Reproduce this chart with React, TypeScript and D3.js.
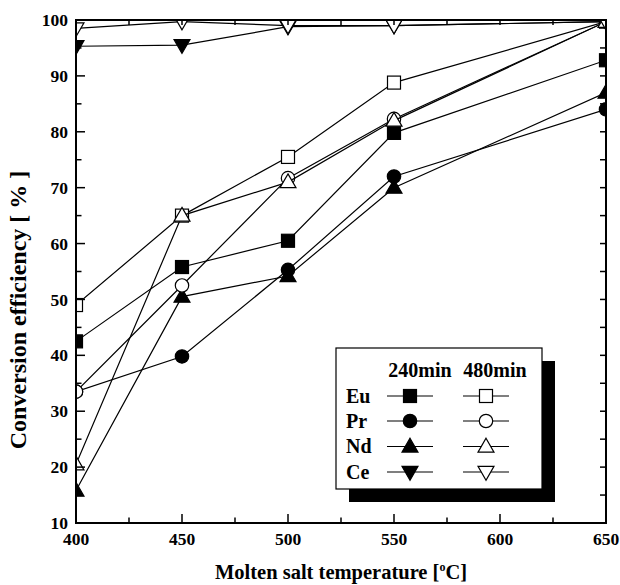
import { scaleLinear, line, range, symbol, symbolTriangle } from "d3";

const temps = [400, 450, 500, 550, 650];
const eu240 = [42.5, 55.8, 60.5, 79.8, 92.8];
const eu480 = [49, 65, 75.5, 88.8, 99.7];
const pr240 = [33.5, 39.8, 55.3, 72, 84];
const pr480 = [33.5, 52.5, 71.7, 82.3, 99.7];
const nd240 = [15.8, 50.5, 54.2, 70, 87];
const nd480 = [20.5, 65, 71, 82, 99.7];
const ce240 = [95.3, 95.5, 98.8, 99, 99.7];
const ce480 = [98.5, 99.7, 99, 99, 99.7];

const elements = ["Eu", "Pr", "Nd", "Ce"];
const shapes = ["square", "circle", "up", "down"];
const series240 = [eu240, pr240, nd240, ce240];
const series480 = [eu480, pr480, nd480, ce480];

const xTicks = [400, 450, 500, 550, 600, 650];
const yTicks = [10, 20, 30, 40, 50, 60, 70, 80, 90, 100];

const W = 620;
const H = 585;
const margin = { top: 20, right: 14, bottom: 62, left: 76 };
const font = "'Liberation Serif', 'Times New Roman', serif";

const Marker = ({ shape, x, y, filled }) => {
  const fill = filled ? "#000" : "#fff";
  if (shape === "square") {
    return <rect x={x - 6.5} y={y - 6.5} width={13} height={13} fill={fill} stroke="#000" strokeWidth={1.2} />;
  }
  if (shape === "circle") {
    return <circle cx={x} cy={y} r={6.7} fill={fill} stroke="#000" strokeWidth={1.2} />;
  }
  const d = symbol(symbolTriangle, 110)();
  const rot = shape === "down" ? 180 : 0;
  return (
    <path d={d} transform={`translate(${x},${y + (shape === "down" ? -1 : 1)}) rotate(${rot})`} fill={fill} stroke="#000" strokeWidth={1.2} />
  );
};

export default function App() {
  const innerW = W - margin.left - margin.right;
  const innerH = H - margin.top - margin.bottom;
  const x0 = margin.left;
  const x1 = margin.left + innerW;
  const y0 = margin.top;
  const y1 = margin.top + innerH;

  const xScale = scaleLinear().domain([400, 650]).range([x0, x1]);
  const yScale = scaleLinear().domain([10, 100]).range([y1, y0]);

  const lineGen = line()
    .x((d) => xScale(d[0]))
    .y((d) => yScale(d[1]));

  const minorX = range(400, 651, 25);
  const minorY = range(10, 101, 5);

  const drawSeries = (vals, shape, filled, key) => {
    const pts = temps.map((t, i) => [t, vals[i]]);
    return (
      <g key={key}>
        <path d={lineGen(pts)} fill="none" stroke="#000" strokeWidth={1.2} />
        {pts.map((p, i) => (
          <Marker key={i} shape={shape} x={xScale(p[0])} y={yScale(p[1])} filled={filled} />
        ))}
      </g>
    );
  };

  // legend layout
  const lg = { x: 336, y: 348, w: 206, h: 141, shadow: 13 };
  const rowY = [396, 421, 446.5, 472];

  return (
    <svg width={W} height={H} style={{ position: "absolute", left: 0, top: 0, background: "#fff" }} fontFamily={font}>
      <defs>
        <clipPath id="plotClip">
          <rect x={x0} y={y0} width={innerW} height={innerH} />
        </clipPath>
      </defs>

      <g clipPath="url(#plotClip)">
        {series240.map((s, i) => drawSeries(s, shapes[i], true, "a" + i))}
        {series480.map((s, i) => drawSeries(s, shapes[i], false, "b" + i))}
      </g>

      {/* frame */}
      <rect x={x0} y={y0} width={innerW} height={innerH} fill="none" stroke="#000" strokeWidth={2} />

      {/* ticks */}
      {minorY.map((v) => {
        const major = v % 10 === 0;
        return (
          <g key={"y" + v}>
            <line x1={x0} x2={x0 + (major ? 9 : 5.5)} y1={yScale(v)} y2={yScale(v)} stroke="#000" strokeWidth={1.5} />
            <line x1={x1} x2={x1 - 6} y1={yScale(v)} y2={yScale(v)} stroke="#000" strokeWidth={1.5} />
          </g>
        );
      })}
      {minorX.map((v) => {
        const major = v % 50 === 0;
        return (
          <g key={"x" + v}>
            <line x1={xScale(v)} x2={xScale(v)} y1={y1} y2={y1 - (major ? 9 : 5.5)} stroke="#000" strokeWidth={1.5} />
            <line x1={xScale(v)} x2={xScale(v)} y1={y0} y2={y0 + 5} stroke="#000" strokeWidth={1.5} />
          </g>
        );
      })}

      {/* tick labels */}
      {yTicks.map((v) => (
        <text key={"yl" + v} x={x0 - 8} y={yScale(v)} dy="0.35em" textAnchor="end" fontSize={17.5} fontWeight="bold">
          {v}
        </text>
      ))}
      {xTicks.map((v) => (
        <text key={"xl" + v} x={xScale(v)} y={y1 + 22} textAnchor="middle" fontSize={17.5} fontWeight="bold">
          {v}
        </text>
      ))}

      {/* axis titles */}
      <text x={(x0 + x1) / 2} y={579} textAnchor="middle" fontSize={20.5} fontWeight="bold">
        Molten salt temperature [<tspan dy={-8} fontSize={12}>o</tspan>
        <tspan dy={8}>C]</tspan>
      </text>
      <text transform={`translate(26,310) rotate(-90)`} textAnchor="middle" fontSize={24} fontWeight="bold">
        Conversion efficiency [ % ]
      </text>

      {/* legend */}
      <rect x={lg.x + lg.shadow} y={lg.y + lg.shadow} width={lg.w} height={lg.h} fill="#000" />
      <rect x={lg.x} y={lg.y} width={lg.w} height={lg.h} fill="#fff" stroke="#000" strokeWidth={1.2} />
      <text x={420} y={377} textAnchor="middle" fontSize={20} fontWeight="bold">240min</text>
      <text x={495} y={377} textAnchor="middle" fontSize={20} fontWeight="bold">480min</text>
      {elements.map((el, i) => (
        <g key={el}>
          <text x={346} y={rowY[i] + 6.5} fontSize={20} fontWeight="bold">{el}</text>
          <line x1={387} x2={433} y1={rowY[i]} y2={rowY[i]} stroke="#000" strokeWidth={1.2} />
          <line x1={463} x2={509} y1={rowY[i]} y2={rowY[i]} stroke="#000" strokeWidth={1.2} />
          <Marker shape={shapes[i]} x={410} y={rowY[i]} filled={true} />
          <Marker shape={shapes[i]} x={486} y={rowY[i]} filled={false} />
        </g>
      ))}
    </svg>
  );
}
